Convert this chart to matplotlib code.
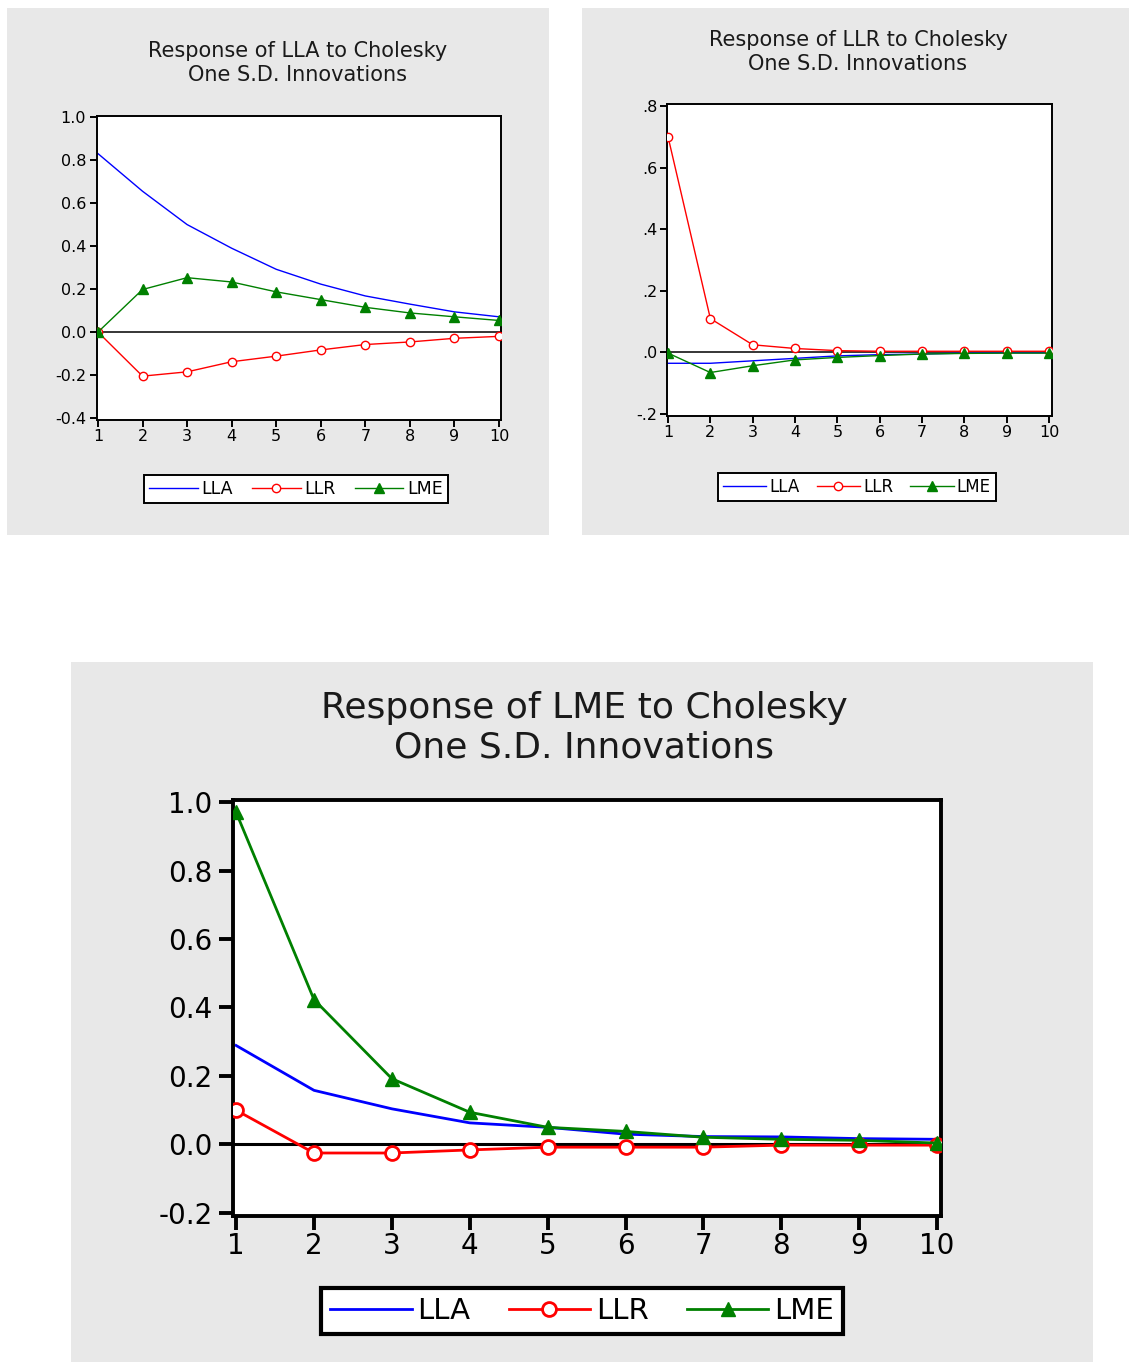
import matplotlib
matplotlib.use("Agg")
import matplotlib.pyplot as plt
from matplotlib.patches import Rectangle

W, H = 1129, 1362
DPI = 100

periods = [1, 2, 3, 4, 5, 6, 7, 8, 9, 10]

# Response of LLA
lla_lla = [0.83, 0.655, 0.50, 0.39, 0.292, 0.223, 0.168, 0.13, 0.094, 0.071]
lla_llr = [0.0, -0.205, -0.185, -0.138, -0.112, -0.083, -0.058, -0.046, -0.029, -0.02]
lla_lme = [0.0, 0.198, 0.253, 0.233, 0.187, 0.151, 0.115, 0.089, 0.071, 0.054]

# Response of LLR
llr_lla = [-0.035, -0.035, -0.027, -0.019, -0.011, -0.007, -0.005, -0.002, -0.001, -0.001]
llr_llr = [0.70, 0.11, 0.025, 0.013, 0.006, 0.004, 0.004, 0.004, 0.004, 0.004]
llr_lme = [-0.002, -0.065, -0.043, -0.024, -0.016, -0.01, -0.005, -0.003, -0.002, -0.002]

# Response of LME
lme_lla = [0.289, 0.158, 0.104, 0.063, 0.05, 0.03, 0.023, 0.022, 0.017, 0.015]
lme_llr = [0.10, -0.025, -0.025, -0.016, -0.008, -0.008, -0.008, -0.002, -0.002, -0.002]
lme_lme = [0.97, 0.423, 0.192, 0.094, 0.05, 0.038, 0.021, 0.015, 0.012, 0.004]

series_names = ["LLA", "LLR", "LME"]

yt_top = [-0.4, -0.2, 0.0, 0.2, 0.4, 0.6, 0.8, 1.0]
yt_top_labels = ["-0.4", "-0.2", "0.0", "0.2", "0.4", "0.6", "0.8", "1.0"]
yt_llr = [-0.2, 0.0, 0.2, 0.4, 0.6, 0.8]
yt_llr_labels = ["-.2", ".0", ".2", ".4", ".6", ".8"]
yt_lme = [-0.2, 0.0, 0.2, 0.4, 0.6, 0.8, 1.0]
yt_lme_labels = ["-0.2", "0.0", "0.2", "0.4", "0.6", "0.8", "1.0"]

BG = "#e8e8e8"
C_BLUE = "#0000ff"
C_RED = "#ff0000"
C_GREEN = "#008000"

plt.rcParams["font.family"] = ["DejaVu Sans"]

fig = plt.figure(figsize=(W / DPI, H / DPI), dpi=DPI, facecolor="white")


def frac_rect(x0, y0, x1, y1):
    return [x0 / W, 1 - y1 / H, (x1 - x0) / W, (y1 - y0) / H]


def add_bg(x0, y0, x1, y1):
    fig.patches.append(Rectangle((x0 / W, 1 - y1 / H), (x1 - x0) / W, (y1 - y0) / H,
                                 transform=fig.transFigure, facecolor=BG,
                                 edgecolor="none", zorder=-5))


def panel(box, bg, title, title_xy, title_fs, data, xlim, ylim, yticks, ylabels,
          tick_fs, tick_pad, frame_lw, lw, ms_circ, ms_tri, leg_center, leg_fs, leg_lw,
          handlelen, colsp):
    add_bg(*bg)
    ax = fig.add_axes(frac_rect(*box))
    ax.set_zorder(2)
    ax.set_facecolor("white")
    ax.axhline(0, color="black", lw=lw * 1.1, zorder=1)
    a, b, c = data
    ax.plot(periods, a, color=C_BLUE, lw=lw, label=series_names[0], zorder=2)
    ax.plot(periods, b, color=C_RED, lw=lw, marker="o", ms=ms_circ,
            mfc="white", mec=C_RED, mew=lw, label=series_names[1], zorder=3)
    ax.plot(periods, c, color=C_GREEN, lw=lw, marker="^", ms=ms_tri,
            mfc=C_GREEN, mec=C_GREEN, label=series_names[2], zorder=4)
    ax.set_xlim(*xlim)
    ax.set_ylim(*ylim)
    ax.set_xticks(periods)
    ax.set_xticklabels([str(p) for p in periods])
    ax.set_yticks(yticks)
    ax.set_yticklabels(ylabels)
    ax.tick_params(axis="both", direction="out", length=frame_lw * 3.5, width=frame_lw,
                   labelsize=tick_fs, top=False, right=False, colors="black")
    ax.tick_params(axis="y", pad=tick_pad)
    ax.tick_params(axis="x", pad=1.5)
    for s in ax.spines.values():
        s.set_linewidth(frame_lw)
        s.set_color("black")
    fig.text(title_xy[0] / W, 1 - title_xy[1] / H, title, ha="center", va="center",
             fontsize=title_fs, linespacing=1.2, color="#1a1a1a")
    leg = fig.legend(loc="center", bbox_to_anchor=(leg_center[0] / W, 1 - leg_center[1] / H),
                     ncol=3, fontsize=leg_fs, frameon=True, fancybox=False,
                     handlelength=handlelen, handletextpad=0.2, columnspacing=colsp,
                     borderpad=0.3, edgecolor="black", facecolor="white",
                     handles=ax.get_lines()[1:], labels=series_names)
    leg.get_frame().set_linewidth(leg_lw)
    leg.get_frame().set_alpha(1)
    return ax


panel(box=(97, 116, 501, 420), bg=(7, 8, 549, 535),
      title="Response of LLA to Cholesky\nOne S.D. Innovations", title_xy=(298, 63), title_fs=15,
      data=(lla_lla, lla_llr, lla_lme), xlim=(0.978, 10.045), ylim=(-0.409, 1.005),
      yticks=yt_top, ylabels=yt_top_labels, tick_fs=11.5, tick_pad=3, frame_lw=1.4, lw=1.0,
      ms_circ=6, ms_tri=6.5, leg_center=(296, 489), leg_fs=12.5, leg_lw=1.4, handlelen=2.8, colsp=1.1)

panel(box=(667, 104, 1052, 416), bg=(582, 8, 1129, 535),
      title="Response of LLR to Cholesky\nOne S.D. Innovations", title_xy=(858, 52), title_fs=15,
      data=(llr_lla, llr_llr, llr_lme), xlim=(0.976, 10.07), ylim=(-0.206, 0.806),
      yticks=yt_llr, ylabels=yt_llr_labels, tick_fs=11.5, tick_pad=2, frame_lw=1.4, lw=1.0,
      ms_circ=6, ms_tri=6.5, leg_center=(857, 487), leg_fs=12, leg_lw=1.4, handlelen=2.6, colsp=1.0)

panel(box=(233, 800, 941, 1216), bg=(71, 662, 1093, 1362),
      title="Response of LME to Cholesky\nOne S.D. Innovations", title_xy=(584, 728), title_fs=26,
      data=(lme_lla, lme_llr, lme_lme), xlim=(0.96, 10.05), ylim=(-0.209, 1.006),
      yticks=yt_lme, ylabels=yt_lme_labels, tick_fs=20, tick_pad=5, frame_lw=2.8, lw=2.0,
      ms_circ=10, ms_tri=10, leg_center=(582, 1311), leg_fs=21, leg_lw=3.0, handlelen=2.8, colsp=1.3)

fig.savefig("out.png", dpi=DPI, facecolor="white")
